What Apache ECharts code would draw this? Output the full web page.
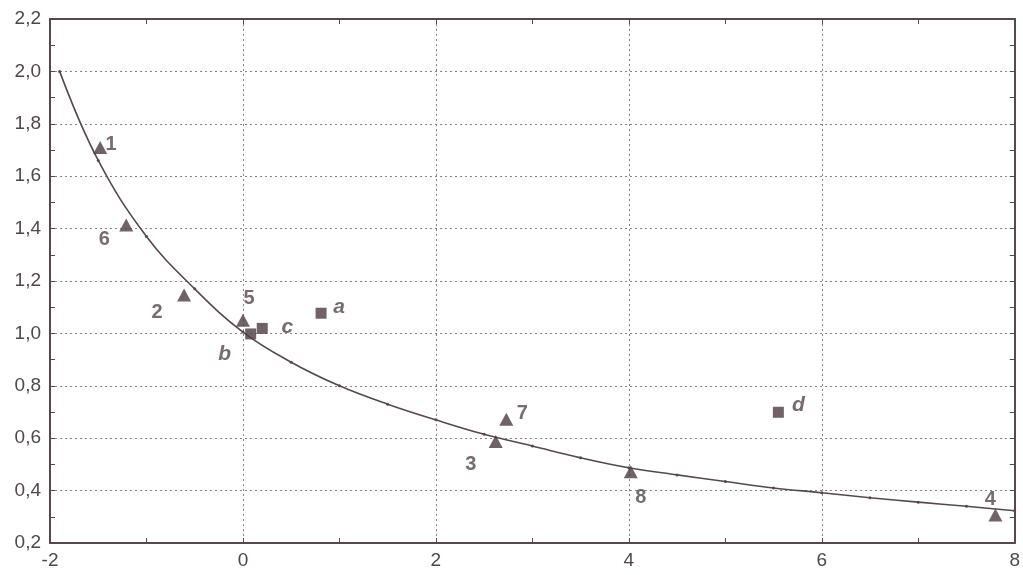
<!DOCTYPE html>
<html><head><meta charset="utf-8">
<script src="https://cdn.jsdelivr.net/npm/echarts@6/dist/echarts.min.js"></script>
<style>html,body{margin:0;padding:0;background:#fff}#c{width:1023px;height:575px}</style>
</head><body><div id="c"></div>
<script>
// Fitted curve
const curveX = [-1.9, -1.5, -1.0, -0.5, 0, 0.5, 1.0, 1.5, 2.0, 2.5, 3.0, 3.5, 4.0, 4.5, 5.0, 5.5, 6.0, 6.5, 7.0, 7.5, 8.0];
const curveY = [2.0, 1.66, 1.37, 1.17, 1.005, 0.89, 0.80, 0.73, 0.67, 0.615, 0.57, 0.525, 0.487, 0.46, 0.435, 0.41, 0.392, 0.373, 0.356, 0.34, 0.323];
// Triangle points (numbered)
const triNames = ['1', '6', '2', '5', '3', '7', '8', '4'];
const triX = [-1.48, -1.21, -0.61, 0.0, 2.62, 2.73, 4.02, 7.80];
const triY = [1.71, 1.414, 1.147, 1.05, 0.587, 0.672, 0.472, 0.307];
// Square points (lettered)
const sqNames = ['a', 'b', 'c', 'd'];
const sqX = [0.81, 0.08, 0.20, 5.55];
const sqY = [1.077, 0.998, 1.019, 0.699];
// Axis tick labels
const xTicks = [-2, 0, 2, 4, 6, 8];
const yTicks = [0.2, 0.4, 0.6, 0.8, 1.0, 1.2, 1.4, 1.6, 1.8, 2.0, 2.2];

// label offsets (styling only)
const triOff = {'1':[11,-3],'6':[-22,15],'2':[-27,18],'5':[6,-22],'3':[-25,23],'7':[16,-6],'8':[10,26],'4':[-5,-15]};
const sqOff = {'a':[18,-6],'b':[-26,20],'c':[25,-1],'d':[20,-7]};

const ink = '#574850';
const mark = '#4c3c42';
const txt = '#52464c';

const fmtY = v => v.toFixed(1).replace('.', ',');

const chart = echarts.init(document.getElementById('c'), null, {renderer: 'canvas'});
const axisCommon = {
  axisLine: {show: true, onZero: false, lineStyle: {color: ink, width: 2}},
  axisTick: {show: true, inside: true, length: 5, lineStyle: {color: ink, width: 1}},
  minorTick: {show: true, splitNumber: 2, length: 5, lineStyle: {color: ink, width: 1}},
};
chart.setOption({
  animation: false,
  backgroundColor: '#fff',
  grid: {left: 50, right: 4, top: 19, bottom: 32, containLabel: false},
  xAxis: [
    Object.assign({
      type: 'value', min: -2, max: 8, interval: 2, position: 'bottom',
      axisLabel: {color: txt, fontFamily: 'Liberation Sans, Arial', fontSize: 19, margin: 8,
        formatter: v => xTicks.includes(v) ? String(v) : ''},
      splitLine: {show: true, lineStyle: {color: '#8a8088', type: [2, 3], width: 1}}
    }, axisCommon),
    Object.assign({
      type: 'value', min: -2, max: 8, interval: 2, position: 'top',
      axisLabel: {show: false}, splitLine: {show: false}
    }, axisCommon)
  ],
  yAxis: [
    Object.assign({
      type: 'value', min: 0.2, max: 2.2, interval: 0.2, position: 'left',
      axisLabel: {color: txt, fontFamily: 'Liberation Sans, Arial', fontSize: 19, margin: 9,
        formatter: v => fmtY(v)},
      splitLine: {show: true, lineStyle: {color: '#8a8088', type: [2, 3], width: 1}}
    }, axisCommon),
    Object.assign({
      type: 'value', min: 0.2, max: 2.2, interval: 0.2, position: 'right',
      axisLabel: {show: false}, splitLine: {show: false}
    }, axisCommon)
  ],
  series: [
    {
      type: 'line', smooth: 0.4, xAxisIndex: 0, yAxisIndex: 0,
      data: curveX.map((x, i) => [x, curveY[i]]),
      showSymbol: true, symbol: 'circle', symbolSize: 3,
      itemStyle: {color: ink},
      lineStyle: {color: ink, width: 1.6},
      z: 2
    },
    {
      type: 'scatter', xAxisIndex: 0, yAxisIndex: 0,
      symbol: 'triangle', symbolSize: [14, 13],
      itemStyle: {color: mark},
      data: triX.map((x, i) => ({
        value: [x, triY[i]], name: triNames[i],
        label: {show: true, position: 'inside', offset: triOff[triNames[i]], formatter: triNames[i],
          color: txt, fontSize: 20, fontWeight: 'bold', fontFamily: 'Liberation Sans, Arial'}
      })),
      z: 5
    },
    {
      type: 'scatter', xAxisIndex: 0, yAxisIndex: 0,
      symbol: 'rect', symbolSize: 11,
      itemStyle: {color: mark},
      data: sqX.map((x, i) => ({
        value: [x, sqY[i]], name: sqNames[i],
        label: {show: true, position: 'inside', offset: sqOff[sqNames[i]], formatter: sqNames[i],
          color: txt, fontSize: 21, fontWeight: 'bold', fontStyle: 'italic', fontFamily: 'Liberation Sans, Arial'}
      })),
      z: 5
    }
  ]
});
</script>
</body></html>
